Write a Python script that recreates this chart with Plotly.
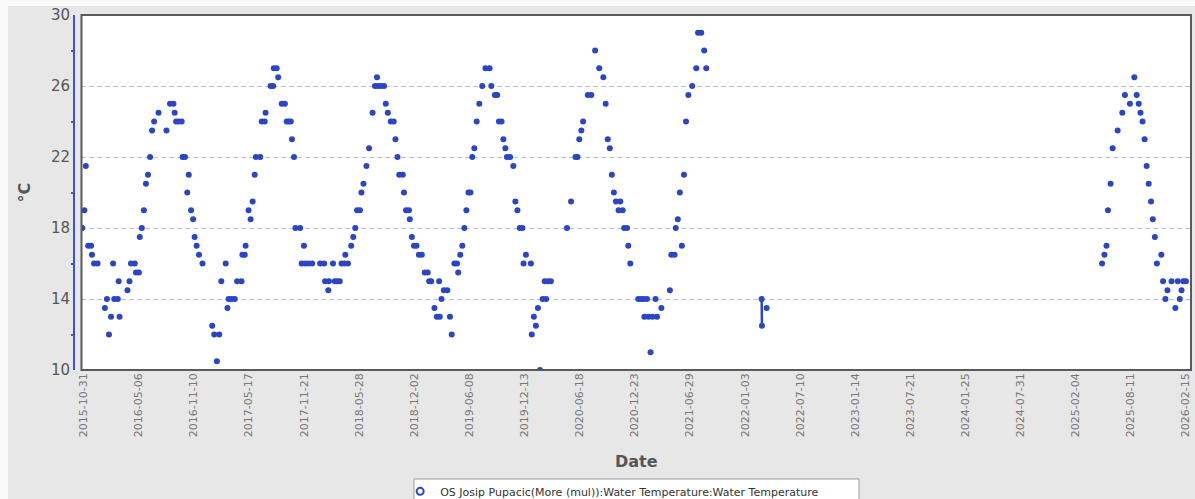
import pandas as pd
import plotly.graph_objects as go

# Water temperature readings (°C) per season
dates_2015_16 = ['2015-10-27', '2015-11-03', '2015-11-08', '2015-11-16', '2015-11-26', '2015-11-29', '2015-12-06', '2015-12-18',
                 '2016-01-12', '2016-01-19', '2016-01-26', '2016-02-02', '2016-02-09', '2016-02-13', '2016-02-25', '2016-02-28', '2016-03-02',
                 '2016-03-29', '2016-04-05', '2016-04-10', '2016-04-23', '2016-04-27', '2016-05-07',
                 '2016-05-10', '2016-05-17', '2016-05-24', '2016-05-31', '2016-06-07', '2016-06-14', '2016-06-21', '2016-06-28',
                 '2016-07-13', '2016-08-09', '2016-08-21', '2016-09-02', '2016-09-06', '2016-09-11', '2016-09-20', '2016-09-30',
                 '2016-10-03', '2016-10-11', '2016-10-19', '2016-10-24', '2016-11-01', '2016-11-08', '2016-11-13', '2016-11-20', '2016-11-28', '2016-12-10']
temps_2015_16 = [18, 19, 21.5, 17, 17, 16.5, 16, 16,
                 13.5, 14, 12, 13, 16, 14, 14, 15, 13,
                 14.5, 15, 16, 16, 15.5, 15.5,
                 17.5, 18, 19, 20.5, 21, 22, 23.5, 24,
                 24.5, 23.5, 25, 25, 24.5, 24, 24, 24,
                 22, 22, 20, 21, 19, 18.5, 17.5, 17, 16.5, 16]

dates_2017 = ['2017-01-12', '2017-01-19', '2017-01-28', '2017-02-05', '2017-02-12', '2017-02-27', '2017-03-05', '2017-03-09', '2017-03-19', '2017-03-30',
              '2017-04-07', '2017-04-22', '2017-04-25', '2017-05-03', '2017-05-06', '2017-05-16', '2017-05-23', '2017-05-30', '2017-06-06', '2017-06-10',
              '2017-06-25', '2017-06-30', '2017-07-10', '2017-07-13', '2017-07-30', '2017-08-08', '2017-08-10', '2017-08-20', '2017-08-25', '2017-09-06',
              '2017-09-17', '2017-09-23', '2017-09-30', '2017-10-07', '2017-10-11', '2017-10-18', '2017-10-23', '2017-11-08', '2017-11-13', '2017-11-21',
              '2017-11-25', '2017-12-07', '2017-12-19']
temps_2017 = [12.5, 12, 10.5, 12, 15, 16, 13.5, 14, 14, 14,
              15, 15, 16.5, 16.5, 17, 19, 18.5, 19.5, 21, 22,
              22, 24, 24, 24.5, 26, 26, 27, 27, 26.5, 25,
              25, 24, 24, 24, 23, 22, 18, 18, 16, 17,
              16, 16, 16]

dates_2018 = ['2018-01-15', '2018-01-29', '2018-02-01', '2018-02-12', '2018-02-14', '2018-02-28', '2018-03-06', '2018-03-14', '2018-03-23', '2018-03-29',
              '2018-04-08', '2018-04-11', '2018-04-20', '2018-05-01', '2018-05-08', '2018-05-15', '2018-05-21', '2018-05-31', '2018-06-05', '2018-06-12',
              '2018-06-22', '2018-07-01', '2018-07-13', '2018-07-21', '2018-07-28', '2018-07-31', '2018-08-11', '2018-08-21', '2018-08-27', '2018-09-03',
              '2018-09-13', '2018-09-23', '2018-09-29', '2018-10-06', '2018-10-12', '2018-10-24', '2018-10-28', '2018-11-04', '2018-11-14', '2018-11-17',
              '2018-11-24', '2018-12-01', '2018-12-10', '2018-12-18', '2018-12-28']
temps_2018 = [16, 16, 15, 14.5, 15, 16, 15, 15, 15, 16,
              16, 16.5, 16, 17, 17.5, 18, 19, 19, 20, 20.5,
              21.5, 22.5, 24.5, 26, 26.5, 26, 26, 26, 25, 24.5,
              24, 24, 23, 22, 21, 21, 20, 19, 19, 18.5,
              17.5, 17, 17, 16.5, 16.5]

dates_2019 = ['2019-01-07', '2019-01-17', '2019-01-22', '2019-01-29', '2019-02-09', '2019-02-17', '2019-02-25', '2019-02-27', '2019-03-05', '2019-03-13',
              '2019-03-25', '2019-04-03', '2019-04-09', '2019-04-18', '2019-04-27', '2019-05-01', '2019-05-08', '2019-05-15', '2019-05-22', '2019-05-29',
              '2019-06-05', '2019-06-12', '2019-06-18', '2019-06-25', '2019-07-03', '2019-07-12', '2019-07-22', '2019-08-02', '2019-08-16', '2019-08-22',
              '2019-09-03', '2019-09-11', '2019-09-17', '2019-09-26', '2019-10-02', '2019-10-09', '2019-10-14', '2019-10-25', '2019-11-05', '2019-11-12',
              '2019-11-19', '2019-11-27', '2019-12-06', '2019-12-10', '2019-12-18']
temps_2019 = [15.5, 15.5, 15, 15, 13.5, 13, 15, 13, 14, 14.5,
              14.5, 13, 12, 16, 16, 15.5, 16.5, 17, 18, 19,
              20, 20, 22, 22.5, 24, 25, 26, 27, 27, 26,
              25.5, 25.5, 24, 24, 23, 22.5, 22, 22, 21.5, 19.5,
              19, 18, 18, 16, 16.5]

dates_2020 = ['2020-01-04', '2020-01-07', '2020-01-14', '2020-01-21', '2020-01-28', '2020-02-04', '2020-02-13', '2020-02-20', '2020-02-25', '2020-03-02', '2020-03-12',
              '2020-05-06', '2020-05-20', '2020-06-04', '2020-06-11', '2020-06-17', '2020-06-24', '2020-06-30', '2020-07-16', '2020-07-28',
              '2020-08-10', '2020-08-24', '2020-09-07', '2020-09-15', '2020-09-22', '2020-09-29', '2020-10-06', '2020-10-13', '2020-10-20', '2020-10-29',
              '2020-11-04', '2020-11-12', '2020-11-17', '2020-11-27', '2020-12-01', '2020-12-08']
temps_2020 = [16, 12, 13, 12.5, 13.5, 10, 14, 15, 14, 15, 15,
              18, 19.5, 22, 22, 23, 23.5, 24, 25.5, 25.5,
              28, 27, 26.5, 25, 23, 22.5, 21, 20, 19.5, 19,
              19.5, 19, 18, 18, 17, 16]

dates_2021 = ['2021-01-04', '2021-01-14', '2021-01-23', '2021-01-25', '2021-02-03', '2021-02-08', '2021-02-15', '2021-02-22', '2021-03-04', '2021-03-09',
              '2021-03-24', '2021-04-22', '2021-04-27', '2021-05-08', '2021-05-12', '2021-05-19', '2021-05-26', '2021-06-02', '2021-06-09', '2021-06-16',
              '2021-06-24', '2021-07-07', '2021-07-21', '2021-07-27', '2021-08-07', '2021-08-17', '2021-08-24']
temps_2021 = [14, 14, 14, 13, 14, 13, 11, 13, 14, 13,
              13.5, 14.5, 16.5, 16.5, 18, 18.5, 20, 17, 21, 24,
              25.5, 26, 27, 29, 29, 28, 27]

dates_2022 = ['2022-03-01', '2022-03-02', '2022-03-18']
temps_2022 = [14, 12.5, 13.5]

dates_2025_26 = ['2025-05-05', '2025-05-13', '2025-05-20', '2025-05-25', '2025-06-03', '2025-06-10', '2025-06-27', '2025-07-13', '2025-07-22', '2025-08-08',
                 '2025-08-23', '2025-08-31', '2025-09-07', '2025-09-13', '2025-09-20', '2025-09-27', '2025-10-04', '2025-10-11', '2025-10-19', '2025-10-25',
                 '2025-11-01', '2025-11-08', '2025-11-23', '2025-11-29', '2025-12-07', '2025-12-14', '2025-12-28',
                 '2026-01-10', '2026-01-18', '2026-01-25', '2026-01-31', '2026-02-06', '2026-02-15']
temps_2025_26 = [16, 16.5, 17, 19, 20.5, 22.5, 23.5, 24.5, 25.5, 25,
                 26.5, 25.5, 25, 24.5, 24, 23, 21.5, 20.5, 19.5, 18.5,
                 17.5, 16, 16.5, 15, 14, 14.5, 15,
                 13.5, 15, 14, 14.5, 15, 15]

x_tick_labels = ['2015-10-31', '2016-05-06', '2016-11-10', '2017-05-17', '2017-11-21', '2018-05-28', '2018-12-02',
                 '2019-06-08', '2019-12-13', '2020-06-18', '2020-12-23', '2021-06-29', '2022-01-03', '2022-07-10',
                 '2023-01-14', '2023-07-21', '2024-01-25', '2024-07-31', '2025-02-04', '2025-08-11', '2026-02-15']
y_tick_values = [10, 14, 18, 22, 26, 30]

series_name = 'OS Josip Pupacic(More (mul)):Water Temperature:Water Temperature'

# Combine seasons into one time-ordered series
all_dates = (dates_2015_16 + dates_2017 + dates_2018 + dates_2019 + dates_2020 +
             dates_2021 + dates_2022 + dates_2025_26)
all_temps = (temps_2015_16 + temps_2017 + temps_2018 + temps_2019 + temps_2020 +
             temps_2021 + temps_2022 + temps_2025_26)
df = pd.DataFrame({'date': pd.to_datetime(all_dates), 'temp': all_temps}).sort_values('date')

# Readings on consecutive days are joined by a line; larger gaps break it
xs, ys = [], []
prev = None
for d, t in zip(df['date'], df['temp']):
    if prev is not None and (d - prev).days > 1:
        xs.append(None)
        ys.append(None)
    xs.append(d)
    ys.append(t)
    prev = d

BLUE = '#2b45c9'
FONT = 'DejaVu Sans'

fig = go.Figure()
fig.add_trace(go.Scatter(
    x=xs, y=ys, mode='lines+markers',
    marker=dict(size=6, color=BLUE),
    line=dict(color=BLUE, width=2.5),
    connectgaps=False, showlegend=False, hoverinfo='x+y'))
# Legend entry with hollow marker
fig.add_trace(go.Scatter(
    x=[None], y=[None], mode='markers', name=series_name,
    marker=dict(symbol='circle-open', size=7, color=BLUE, line=dict(width=2, color=BLUE))))

fig.update_layout(
    width=1195, height=499,
    margin=dict(l=74, r=4, t=15, b=129, autoexpand=False),
    paper_bgcolor='#e7e7e7',
    plot_bgcolor='white',
    font=dict(family=FONT, color='#555'),
    showlegend=True,
    legend=dict(x=0.292, xanchor='left', y=-0.301, yanchor='top',
                orientation='h', bgcolor='rgba(0,0,0,0)', borderwidth=0,
                font=dict(family=FONT, size=11, color='#333')),
    xaxis=dict(
        domain=[0.0067, 1],
        type='date', automargin=False,
        range=['2015-10-24 05:00', '2026-03-04 07:00'],
        tickvals=x_tick_labels, ticktext=x_tick_labels,
        tickangle=-90, tickfont=dict(family=FONT, size=11, color='#777'),
        ticks='', showgrid=False, showline=False, zeroline=False,
        title=dict(text='<b>Date</b>', font=dict(family=FONT, size=16, color='#555'), standoff=19)),
    yaxis=dict(
        range=[10, 30], tickvals=y_tick_values,
        anchor='free', position=0, automargin=False,
        showline=True, linecolor='#3b52d4', linewidth=2,
        showgrid=True, gridcolor='#b9c2ef', gridwidth=1, griddash='5px,3px',
        zeroline=False, ticks='',
        tickfont=dict(family=FONT, size=15, color='#555'),
        minor=dict(tick0=12, dtick=4, ticks='outside', ticklen=2, tickwidth=2,
                   tickcolor='#3b52d4', showgrid=False),
        title=dict(text='<b>°C</b>', font=dict(family=FONT, size=16, color='#555'), standoff=15)),
    shapes=[
        # plot frame
        dict(type='rect', xref='x domain', yref='y domain', x0=0, x1=1, y0=0, y1=1,
             line=dict(color='#5a5a5a', width=2), fillcolor='rgba(0,0,0,0)', layer='above'),
        # legend box
        dict(type='rect', xref='paper', yref='paper', x0=0.3044, x1=0.7028, y0=-0.307, y1=-0.45,
             line=dict(color='#9a9a9a', width=1), fillcolor='white', layer='above'),
        # light page edges around the grey panel
        dict(type='rect', xref='paper', yref='paper', x0=-0.1, x1=1.1, y0=1.0254, y1=1.1,
             line=dict(width=0), fillcolor='#f9f9f9', layer='below'),
        dict(type='rect', xref='paper', yref='paper', x0=-0.1, x1=-0.0591, y0=-0.5, y1=1.1,
             line=dict(width=0), fillcolor='#f9f9f9', layer='below'),
    ],
)

fig.write_html('out.html', config={'displayModeBar': False})
